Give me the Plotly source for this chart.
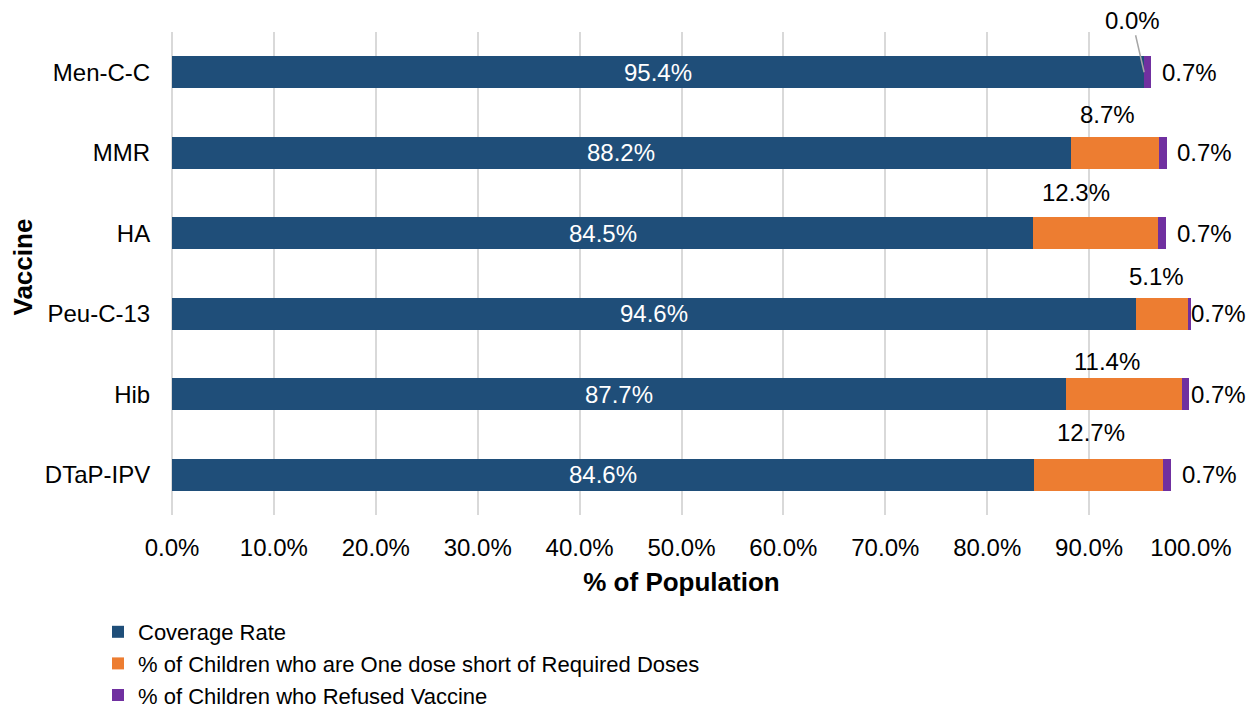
import plotly.graph_objects as go

# ---- data ----
vaccines = ["Men-C-C", "MMR", "HA", "Peu-C-13", "Hib", "DTaP-IPV"]
coverage = [95.4, 88.2, 84.5, 94.6, 87.7, 84.6]
one_dose_short = [0.0, 8.7, 12.3, 5.1, 11.4, 12.7]
refused = [0.7, 0.7, 0.7, 0.7, 0.7, 0.7]
x_tick_values = [0, 10, 20, 30, 40, 50, 60, 70, 80, 90, 100]
x_tick_labels = [f"{v:.1f}%" for v in x_tick_values]

series_names = [
    "Coverage Rate",
    "% of Children who are One dose short of Required Doses",
    "% of Children who Refused Vaccine",
]

# ---- style ----
NAVY = "#1F4E79"
ORANGE = "#ED7D31"
PURPLE = "#7030A0"
GRID = "#D9D9D9"
FONT = "Liberation Sans, Arial, sans-serif"
FS = 24

# pixel nudges for the data labels (manual label placement in the original)
short_dx = [0, -8, -20, -5, -17, -8]
short_dy = [0, 38, 41, 37, 33, 42]
refused_dx = [9, 8, 9, -2, 0, 9]

X_MAX = 100

fig = go.Figure()
for vals, name, color in [
    (coverage, series_names[0], NAVY),
    (one_dose_short, series_names[1], ORANGE),
    (refused, series_names[2], PURPLE),
]:
    fig.add_trace(go.Bar(
        y=vaccines, x=vals, name=name, orientation="h",
        marker=dict(color=color, line=dict(width=0)),
        width=0.4, cliponaxis=False, hoverinfo="x+name",
    ))

annotations = []
for i, v in enumerate(vaccines):
    c, s, r = coverage[i], one_dose_short[i], refused[i]
    # coverage label, centred in bar
    annotations.append(dict(
        x=c / 2, y=v, xref="x", yref="y", text=f"{c:.1f}%", showarrow=False,
        font=dict(color="white", size=FS, family=FONT),
    ))
    # one-dose-short label
    if s > 0:
        annotations.append(dict(
            x=c + s / 2, y=v, xref="x", yref="y", text=f"{s:.1f}%", showarrow=False,
            xshift=short_dx[i], yshift=short_dy[i],
            font=dict(color="black", size=FS, family=FONT),
        ))
    else:
        annotations.append(dict(
            x=c + s / 2, y=v, xref="x", yref="y", text=f"{s:.1f}%", showarrow=True,
            arrowhead=0, arrowwidth=1.5, arrowcolor="#A6A6A6", ax=-12, ay=-52,
            standoff=0,
            font=dict(color="black", size=FS, family=FONT),
        ))
    # refused label (anchored at bar end, kept inside the axis range)
    annotations.append(dict(
        x=min(c + s + r, X_MAX), y=v, xref="x", yref="y", text=f"{r:.1f}%", showarrow=False,
        xanchor="left", xshift=refused_dx[i],
        font=dict(color="black", size=FS, family=FONT),
    ))

# y-axis title
annotations.append(dict(
    x=0, y=0.5, xref="paper", yref="paper", xanchor="center", yanchor="middle",
    xshift=-150, yshift=6, text="<b>Vaccine</b>", textangle=-90, showarrow=False,
    font=dict(size=26, family=FONT, color="black"),
))

fig.update_layout(
    width=1253, height=709,
    barmode="stack",
    paper_bgcolor="white", plot_bgcolor="white",
    margin=dict(l=172, r=62, t=32, b=194, pad=0, autoexpand=False),
    font=dict(family=FONT, size=FS, color="black"),
    showlegend=True,
    legend=dict(
        orientation="v", traceorder="normal",
        xref="container", yref="container",
        x=98 / 1253, y=1 - 611 / 709, xanchor="left", yanchor="top",
        font=dict(size=22, family=FONT, color="black"),
        itemwidth=30, bgcolor="rgba(0,0,0,0)",
    ),
    annotations=annotations,
)

fig.update_xaxes(
    range=[0, X_MAX], tickvals=x_tick_values, ticktext=x_tick_labels,
    tickangle=0,
    showgrid=True, gridcolor=GRID, gridwidth=2,
    zeroline=True, zerolinecolor=GRID, zerolinewidth=2,
    showline=False,
    ticks="outside", ticklen=11, tickcolor="rgba(0,0,0,0)",
    tickfont=dict(size=FS, family=FONT, color="black"),
    title=dict(text="<b>% of Population</b>", font=dict(size=26, family=FONT, color="black"), standoff=13),
)
fig.update_yaxes(
    range=[len(vaccines) - 0.5, -0.5], showgrid=False, zeroline=False, showline=False,
    ticks="outside", ticklen=16, tickcolor="rgba(0,0,0,0)",
    tickfont=dict(size=FS, family=FONT, color="black"),
)

fig.write_html("out.html")
